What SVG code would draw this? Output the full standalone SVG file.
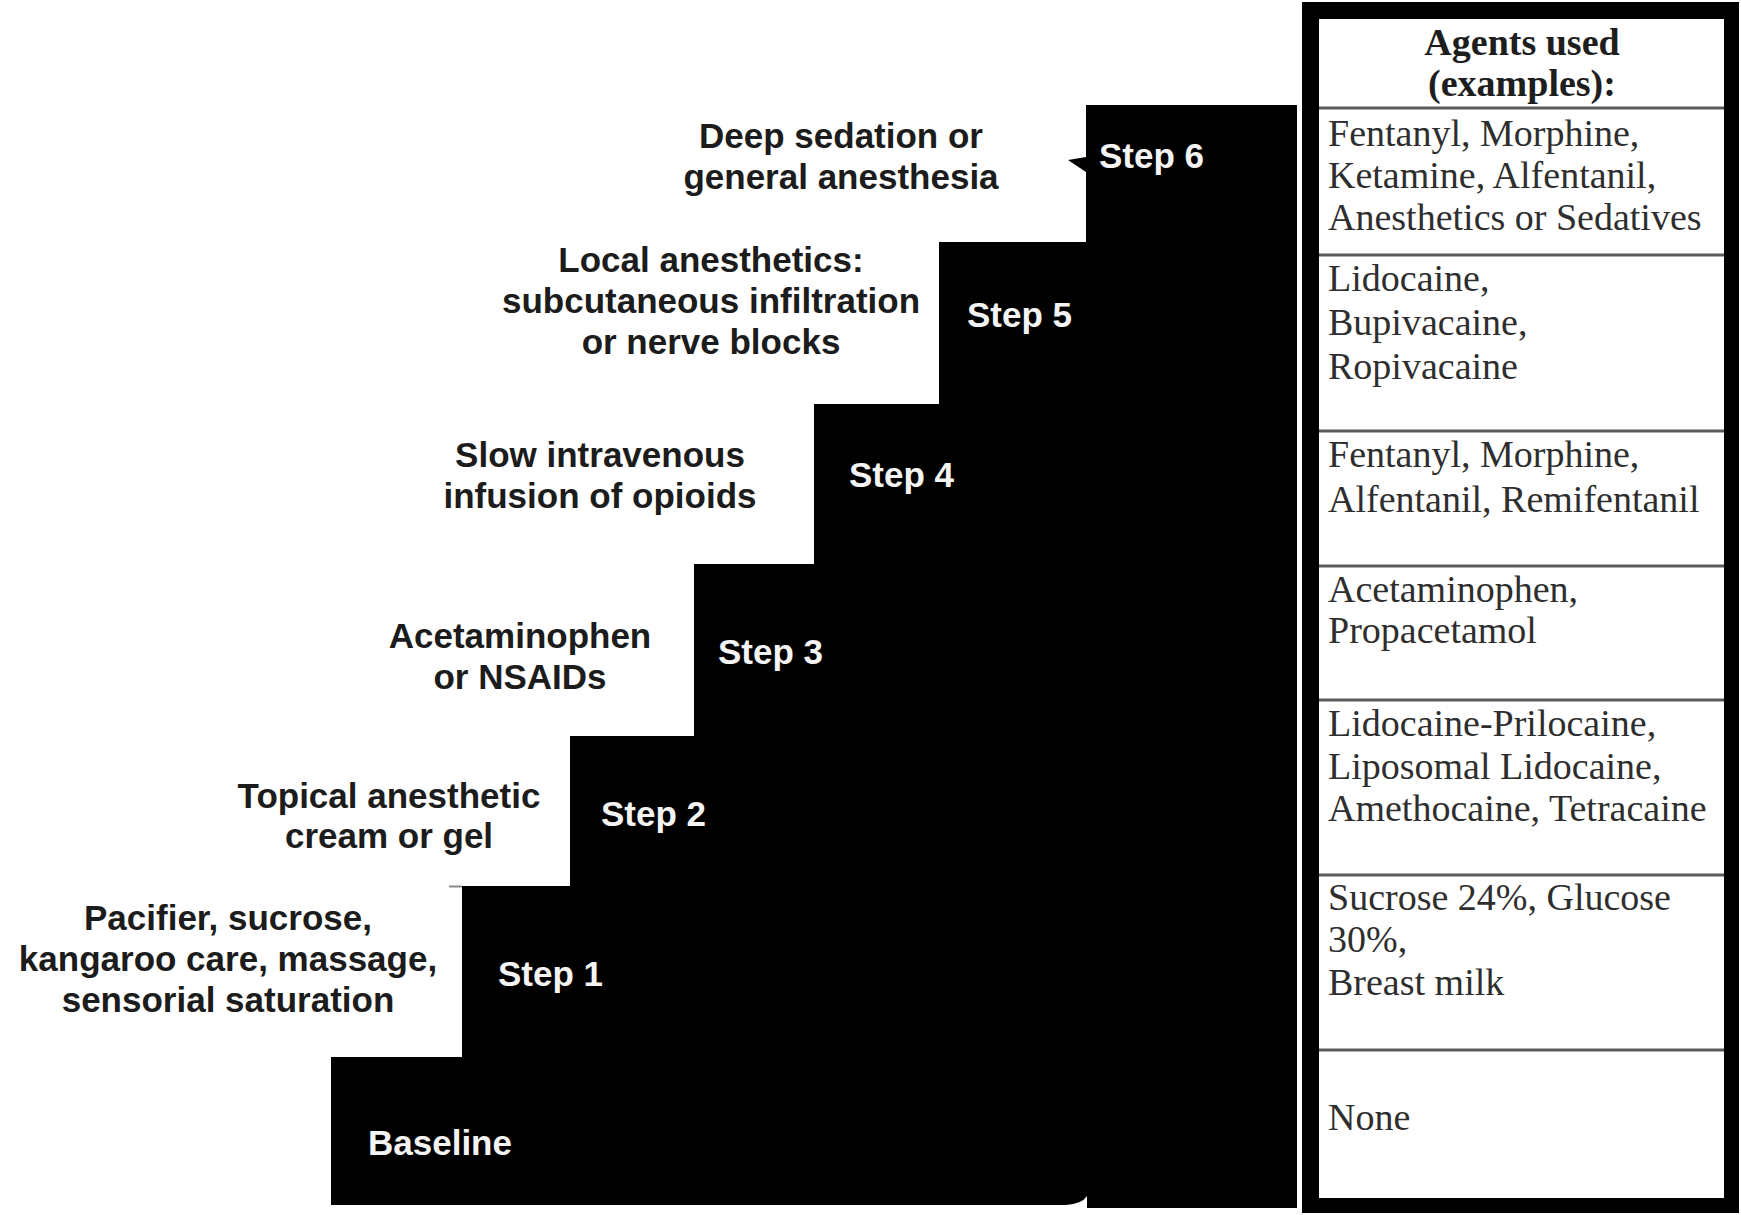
<svg xmlns="http://www.w3.org/2000/svg" width="1741" height="1215" viewBox="0 0 1741 1215">
<style>
.desc{font-family:"Liberation Sans",Arial,sans-serif;font-weight:bold;font-size:35px;fill:#1c1c1c;text-anchor:middle}
.step{font-family:"Liberation Sans",Arial,sans-serif;font-weight:bold;font-size:35px;fill:#f4f4f4}
.cell{font-family:"Liberation Serif","Times New Roman",serif;font-size:38px;fill:#2e2e2e}
.head{font-family:"Liberation Serif","Times New Roman",serif;font-size:38px;font-weight:bold;fill:#1e1e1e;text-anchor:middle}
.div{stroke:#5a5a5a;stroke-width:3}
</style>
<rect width="1741" height="1215" fill="#ffffff"/>
<g id="staircase">
<path d="M331,1057 L462,1057 L462,886 L570,886 L570,736 L694,736 L694,564 L814,564 L814,404 L939,404 L939,242 L1086,242 L1086,172 L1068,160 L1086,157 L1086,105 L1297,105 L1297,1208 L1087,1208 L1087,1196 Q1082,1204 1066,1205 L331,1205 Z" fill="#000000"/>
<line x1="449" y1="886.5" x2="462" y2="886.5" stroke="#888" stroke-width="2"/>
</g>
<g id="baseline"><text class="step" x="368" y="1155">Baseline</text></g>
<g id="step1"><text class="step" x="498" y="986">Step 1</text>
<text class="desc" x="228" y="930">Pacifier, sucrose,</text>
<text class="desc" x="228" y="971">kangaroo care, massage,</text>
<text class="desc" x="228" y="1012">sensorial saturation</text></g>
<g id="step2"><text class="step" x="601" y="826">Step 2</text>
<text class="desc" x="389" y="808">Topical anesthetic</text>
<text class="desc" x="389" y="848">cream or gel</text></g>
<g id="step3"><text class="step" x="718" y="664">Step 3</text>
<text class="desc" x="520" y="648">Acetaminophen</text>
<text class="desc" x="520" y="689">or NSAIDs</text></g>
<g id="step4"><text class="step" x="849" y="487">Step 4</text>
<text class="desc" x="600" y="467">Slow intravenous</text>
<text class="desc" x="600" y="508">infusion of opioids</text></g>
<g id="step5"><text class="step" x="967" y="327">Step 5</text>
<text class="desc" x="711" y="272">Local anesthetics:</text>
<text class="desc" x="711" y="313">subcutaneous infiltration</text>
<text class="desc" x="711" y="354">or nerve blocks</text></g>
<g id="step6"><text class="step" x="1099" y="168">Step 6</text>
<text class="desc" x="841" y="148">Deep sedation or</text>
<text class="desc" x="841" y="189">general anesthesia</text></g>
<g id="table">
<rect x="1302" y="2" width="437" height="1211" fill="#000"/>
<rect x="1319" y="19" width="405" height="1179" fill="#fff"/>
<line class="div" x1="1319" y1="108" x2="1724" y2="108"/>
<line class="div" x1="1319" y1="255" x2="1724" y2="255"/>
<line class="div" x1="1319" y1="431" x2="1724" y2="431"/>
<line class="div" x1="1319" y1="566" x2="1724" y2="566"/>
<line class="div" x1="1319" y1="700" x2="1724" y2="700"/>
<line class="div" x1="1319" y1="875" x2="1724" y2="875"/>
<line class="div" x1="1319" y1="1050" x2="1724" y2="1050"/>
<text class="head" x="1522" y="55">Agents used</text>
<text class="head" x="1522" y="96">(examples):</text>
<text class="cell" x="1328" y="146">Fentanyl, Morphine,</text>
<text class="cell" x="1328" y="188">Ketamine, Alfentanil,</text>
<text class="cell" x="1328" y="230">Anesthetics or Sedatives</text>
<text class="cell" x="1328" y="291">Lidocaine,</text>
<text class="cell" x="1328" y="335">Bupivacaine,</text>
<text class="cell" x="1328" y="379">Ropivacaine</text>
<text class="cell" x="1328" y="467">Fentanyl, Morphine,</text>
<text class="cell" x="1328" y="512">Alfentanil, Remifentanil</text>
<text class="cell" x="1328" y="602">Acetaminophen,</text>
<text class="cell" x="1328" y="643">Propacetamol</text>
<text class="cell" x="1328" y="736">Lidocaine-Prilocaine,</text>
<text class="cell" x="1328" y="779">Liposomal Lidocaine,</text>
<text class="cell" x="1328" y="821">Amethocaine, Tetracaine</text>
<text class="cell" x="1328" y="910">Sucrose 24%, Glucose</text>
<text class="cell" x="1328" y="952">30%,</text>
<text class="cell" x="1328" y="995">Breast milk</text>
<text class="cell" x="1328" y="1130">None</text>
</g>
</svg>
